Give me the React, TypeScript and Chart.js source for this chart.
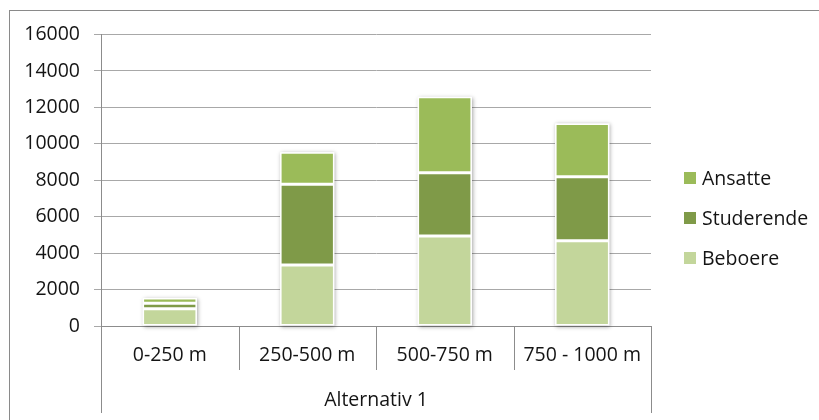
import React, { useEffect, useRef } from 'react';
import { Chart, registerables } from 'chart.js';
Chart.register(...registerables);

const categories = ['0-250 m', '250-500 m', '500-750 m', '750 - 1000 m'];
const groupLabel = 'Alternativ 1';
const seriesNames = ['Beboere', 'Studerende', 'Ansatte'];
const seriesColors = ['#C3D69B', '#7F9A48', '#9BBB59'];
const beboere = [950, 3350, 4940, 4680];
const studerende = [300, 4430, 3475, 3510];
const ansatte = [290, 1760, 4170, 2930];
const yMin = 0;
const yMax = 16000;
const yStep = 2000;

const FONT = '"Open Sans", sans-serif';
const FONT_SIZE = 19.5;
const TEXT = '#141414';
const AXIS = '#8c8c8c';
const GRID = '#a8a8a8';

export default function App() {
  const ref = useRef<HTMLCanvasElement>(null);
  useEffect(() => {
    const canvas = ref.current!;
    const decor = {
      id: 'decor',
      beforeDatasetsDraw(chart: any) {
        const ctx = chart.ctx;
        const metas = chart.getSortedVisibleDatasetMetas();
        ctx.save();
        ctx.shadowColor = 'rgba(0,0,0,0.35)';
        ctx.shadowBlur = 4;
        ctx.shadowOffsetX = 1;
        ctx.shadowOffsetY = 1;
        ctx.fillStyle = '#ffffff';
        for (let i = 0; i < categories.length; i++) {
          let top = Infinity, bottom = -Infinity, left = 0, right = 0;
          metas.forEach((m: any) => {
            const p = m.data[i].getProps(['x', 'y', 'base', 'width'], true);
            top = Math.min(top, p.y, p.base);
            bottom = Math.max(bottom, p.y, p.base);
            left = p.x - p.width / 2;
            right = p.x + p.width / 2;
          });
          ctx.fillRect(left, top, right - left, bottom - top);
        }
        ctx.restore();
      },
      afterDraw(chart: any) {
        const ctx = chart.ctx;
        const a = chart.chartArea;
        ctx.save();
        // outer chart frame
        ctx.strokeStyle = '#8a8a8a';
        ctx.lineWidth = 1;
        ctx.strokeRect(9.5, 10.5, 1000, 1000);
        // category separators and group bracket
        ctx.strokeStyle = AXIS;
        const n = categories.length;
        const w = (a.right - a.left) / n;
        for (let k = 0; k <= n; k++) {
          const x = Math.round(a.left + k * w) + 0.5;
          ctx.beginPath();
          if (k === 0) {
            ctx.moveTo(x, a.top);
            ctx.lineTo(x, 413);
          } else if (k === n) {
            ctx.moveTo(x, a.bottom);
            ctx.lineTo(x, 413);
          } else {
            ctx.moveTo(x, a.bottom);
            ctx.lineTo(x, a.bottom + 44);
          }
          ctx.stroke();
        }
        // legend
        const ys = [178, 218, 258];
        ctx.font = `${FONT_SIZE}px ${FONT}`;
        ctx.textBaseline = 'middle';
        ctx.textAlign = 'left';
        const ds = chart.data.datasets.slice().reverse();
        ds.forEach((d: any, i: number) => {
          ctx.fillStyle = d.backgroundColor;
          ctx.fillRect(684, ys[i] - 6, 12, 12);
          ctx.fillStyle = TEXT;
          ctx.fillText(d.label, 702, ys[i] + 1);
        });
        ctx.restore();
      },
    };
    const chart = new Chart(canvas, {
      type: 'bar',
      data: {
        labels: categories,
        datasets: [
          { label: seriesNames[0], data: beboere, backgroundColor: seriesColors[0] },
          { label: seriesNames[1], data: studerende, backgroundColor: seriesColors[1] },
          { label: seriesNames[2], data: ansatte, backgroundColor: seriesColors[2] },
        ].map((d) => ({ ...d, borderColor: '#ffffff', borderWidth: 1.5, borderSkipped: false, categoryPercentage: 1, barPercentage: 0.395 })),
      },
      options: {
        animation: false,
        responsive: false,
        devicePixelRatio: 1,
        layout: { padding: { left: 0, right: 168, top: 34.5, bottom: 0 } },
        plugins: { legend: { display: false }, tooltip: { enabled: false } },
        scales: {
          x: {
            stacked: true,
            grid: { display: false, drawTicks: false },
            border: { display: true, color: AXIS },
            ticks: { color: TEXT, font: { family: FONT, size: FONT_SIZE }, padding: 18, maxRotation: 0, autoSkip: false },
            title: { display: true, text: groupLabel, color: TEXT, font: { family: FONT, size: FONT_SIZE }, padding: { top: 0, bottom: 8 } },
            afterFit: (s: any) => { s.height = 94; },
          },
          y: {
            stacked: true,
            min: yMin,
            max: yMax,
            grid: { color: GRID, tickColor: GRID, tickLength: 7, drawTicks: true },
            border: { display: true, color: AXIS },
            ticks: { stepSize: yStep, color: TEXT, font: { family: FONT, size: FONT_SIZE }, padding: 14, callback: (v: any) => String(v) },
            afterFit: (s: any) => { s.width = 101; },
          },
        },
      },
      plugins: [decor],
    });
    return () => chart.destroy();
  }, []);
  return (
    <div style={{ position: 'absolute', left: 0, top: 0, width: 819, height: 420, background: '#fff', overflow: 'hidden' }}>
      <canvas ref={ref} width={819} height={420} style={{ display: 'block' }} />
    </div>
  );
}
